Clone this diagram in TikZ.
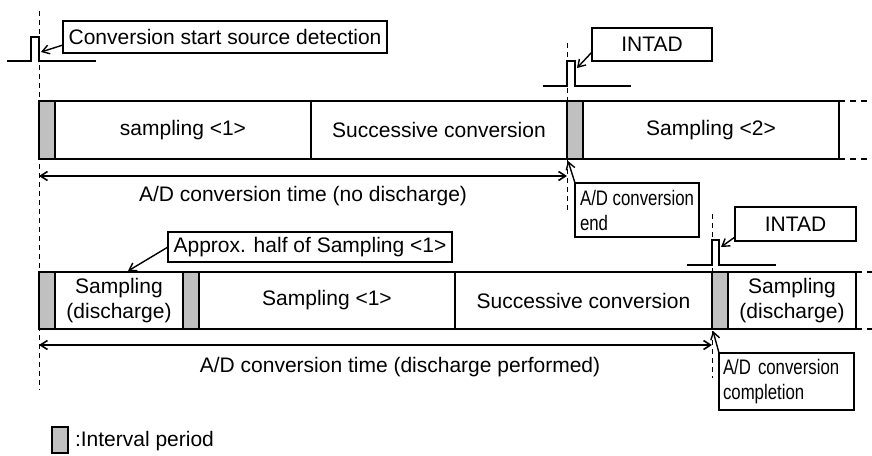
\documentclass[tikz,border=0pt]{standalone}
\usepackage{fontspec}
\setmainfont{Liberation Sans}
\newfontfamily\narrowfont{Liberation Sans}[FakeStretch=0.8]
\usetikzlibrary{arrows.meta,calc}
\definecolor{intgray}{RGB}{192,192,192}
\begin{document}
\begin{tikzpicture}[x=1pt,y=-1pt,
  every node/.style={font=\fontsize{21}{25}\selectfont, inner sep=0pt, outer sep=0pt},
  seg/.style={draw, line width=1.6pt, minimum height=58pt, anchor=center, align=center},
  gapbox/.style={seg, fill=intgray},
  callout/.style={draw, line width=1.4pt, fill=white, align=center},
  narrowcall/.style={draw, line width=1.4pt, fill=white, align=left, inner xsep=4pt,
     font=\narrowfont\fontsize{21}{25}\selectfont},
  pulse/.style={line width=1.4pt},
  vguide/.style={line width=0.9pt, dash pattern=on 5pt off 4pt},
  rowext/.style={line width=1.3pt, dash pattern=on 6pt off 5pt},
  ptr/.style={line width=1.4pt, -{Straight Barb[length=7pt,width=9pt]}},
  span/.style={line width=1.6pt, {Straight Barb[length=7pt,width=9pt]}-{Straight Barb[length=7pt,width=9pt]}},
]
\useasboundingbox (0,0) rectangle (872,455);

% guide coordinates
\coordinate (v1a) at (39,11);  \coordinate (v1b) at (39,390);
\coordinate (v2a) at (567,43); \coordinate (v2b) at (567,212);
\coordinate (v3a) at (712,214); \coordinate (v3b) at (712,378);
\draw[vguide] (v1a) -- (v1b);
\draw[vguide] (v2a) -- (v2b);
\draw[vguide] (v3a) -- (v3b);

% row 1
\node[gapbox, minimum width=16pt] (g1) at (47,130) {};
\node[seg, minimum width=256pt] (s1) at (183,130) {sampling <1>};
\node[seg, minimum width=256pt] (c1) at (439,130) {Successive conversion};
\node[gapbox, minimum width=16pt] (g2) at (575,130) {};
\node[seg, minimum width=256pt] (s2) at (711,130) {Sampling <2>};
\coordinate (e1t) at (872,101); \coordinate (e1b) at (872,159);
\draw[rowext] (s2.north east) -- (e1t);
\draw[rowext] (s2.south east) -- (e1b);

% row 2
\node[gapbox, minimum width=16pt, minimum height=57pt] (g3) at (47,300.5) {};
\node[seg, minimum width=128pt, minimum height=57pt] (d1) at (119,300.5) {Sampling\\(discharge)};
\node[gapbox, minimum width=16pt, minimum height=57pt] (g4) at (191,300.5) {};
\node[seg, minimum width=256pt, minimum height=57pt] (s3) at (327,300.5) {Sampling <1>};
\node[seg, minimum width=257pt, minimum height=57pt] (c2) at (583.5,300.5) {Successive conversion};
\node[gapbox, minimum width=16pt, minimum height=57pt] (g5) at (720,300.5) {};
\node[seg, minimum width=128pt, minimum height=57pt] (d2) at (792,300.5) {Sampling\\(discharge)};
\coordinate (e2t) at (872,272); \coordinate (e2b) at (872,329);
\draw[rowext] (d2.north east) -- (e2t);
\draw[rowext] (d2.south east) -- (e2b);

% pulses
\draw[pulse] (7,61) -- (31,61) -- (31,37) -- (39,37) -- (39,61) -- (96,61);
\draw[pulse] (543,86) -- (567,86) -- (567,61) -- (575,61) -- (575,86) -- (631,86);
\draw[pulse] (687,265) -- (712,265) -- (712,240) -- (719,240) -- (719,265) -- (776,265);
\coordinate (p1) at (41,52);
\coordinate (p2) at (577,68);
\coordinate (p3) at (721,247);

% callouts
\node[callout, minimum width=324pt, minimum height=32pt] (lab1) at (225,37) {Conversion start source detection};
\node[callout, minimum width=120pt, minimum height=33pt] (intad1) at (652,44.5) {INTAD};
\node[callout, minimum width=121pt, minimum height=34pt] (intad2) at (795.5,224) {INTAD};
\node[callout, minimum width=284pt, minimum height=30pt] (approx) at (310,247) {Approx. half of Sampling <1>};
\node[narrowcall, minimum width=124pt, minimum height=54pt] (end1) at (637,210) {A/D conversion\\end};
\node[narrowcall, text width=127pt, minimum height=57pt] (end2) at (786.5,381.5) {A/D conversion\\completion};

\draw[ptr] ($(lab1.west)+(0,8)$) -- (p1);
\draw[ptr] ($(intad1.west)+(0,7.5)$) -- (p2);
\draw[ptr] ($(intad2.south west)+(0,-4)$) -- (p3);
\draw[ptr] (approx.west) -- ($(d1.north)+(9,-1)$);
\draw[ptr] (end1.north west) -- ($(g2.south west)+(1,2)$);
\draw[ptr] (end2.north west) -- ($(g5.south west)+(1,2)$);

% spans
\coordinate (a1l) at (39,176); \coordinate (a1r) at (567,176);
\coordinate (a2l) at (39,345); \coordinate (a2r) at (712,345);
\draw[span] (a1l) -- (a1r);
\draw[span] (a2l) -- (a2r);
\node (t1) at (303,196) {A/D conversion time (no discharge)};
\node (t2) at (400,367) {A/D conversion time (discharge performed)};

% legend
\node[draw, fill=intgray, line width=1.2pt, minimum width=16pt, minimum height=26pt] (leg) at (60,440) {};
\node[anchor=west] (legt) at (75,441) {:Interval period};
\end{tikzpicture}
\end{document}
